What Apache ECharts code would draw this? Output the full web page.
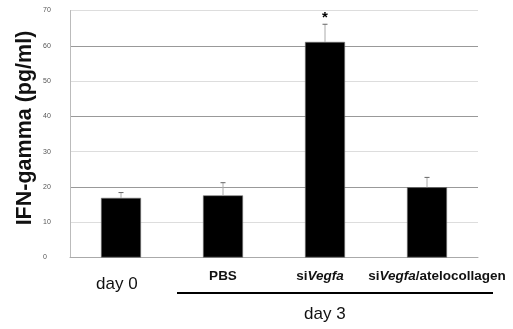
<!DOCTYPE html>
<html><head><meta charset="utf-8">
<script src="https://cdn.jsdelivr.net/npm/echarts@6/dist/echarts.min.js"></script>
<style>html,body{margin:0;padding:0;background:#fff}#c{width:513px;height:329px}</style>
</head><body><div id="c"></div>
<script>
var categories = ['day0', 'PBS', 'siVegfa', 'siVegfa/atelocollagen'];
var values = [16.9, 17.6, 61.1, 19.9];
var errors = [1.5, 3.6, 5.0, 2.8];
var significance = ['', '', '*', ''];
var yTicks = [0, 10, 20, 30, 40, 50, 60, 70];

var chart = echarts.init(document.getElementById('c'));
var labelMap = {
  'day0': '',
  'PBS': '{b|PBS}',
  'siVegfa': '{b|si}{bi|Vegfa}{sp|}',
  'siVegfa/atelocollagen': '{sp2|}{b|si}{bi|Vegfa}{b|/atelocollagen}'
};
var F = 'Liberation Sans, Arial';
chart.setOption({
  animation: false,
  grid: {left: 70, right: 35, top: 10.5, bottom: 71.5},
  xAxis: {
    type: 'category', data: categories,
    axisLine: {lineStyle: {color: '#aaa'}},
    axisTick: {show: false},
    axisLabel: {
      interval: 0, margin: 12,
      formatter: function (v) { return labelMap[v]; },
      rich: {
        b: {fontFamily: F, fontWeight: 'bold', fontSize: 13.5, color: '#111'},
        bi: {fontFamily: F, fontWeight: 'bold', fontStyle: 'italic', fontSize: 13.5, color: '#111'},
        sp: {width: 10},
        sp2: {width: 20}
      }
    }
  },
  yAxis: {
    type: 'value', min: 0, max: 70, interval: 10,
    name: 'IFN-gamma (pg/ml)', nameLocation: 'middle', nameGap: 45, nameMoveOverlap: false,
    nameTextStyle: {fontFamily: F, fontWeight: 'bold', fontSize: 21.5, color: '#111', padding: [0, 0, 0, 12], verticalAlign: 'middle'},
    axisLine: {show: true, lineStyle: {color: '#bbb'}},
    axisTick: {show: false},
    axisLabel: {fontSize: 7, color: '#555', margin: 27, align: 'left',
      formatter: function (v) { return yTicks.indexOf(v) >= 0 ? String(v) : ''; }},
    splitLine: {lineStyle: {color: ['#999', '#ddd'], width: 1}}
  },
  series: [{
    type: 'bar', data: values, barWidth: 40,
    itemStyle: {color: '#000', borderColor: '#777', borderWidth: 0.6}
  }, {
    type: 'custom',
    data: values.map(function (v, i) { return [i, v, v + errors[i], significance[i]]; }),
    renderItem: function (params, api) {
      var base = api.coord([api.value(0), api.value(1)]);
      var top = api.coord([api.value(0), api.value(2)]);
      var children = [
        {type: 'line', shape: {x1: base[0], y1: base[1], x2: top[0], y2: top[1]}, style: {stroke: '#aaa', lineWidth: 1}},
        {type: 'line', shape: {x1: top[0] - 2.5, y1: top[1], x2: top[0] + 2.5, y2: top[1]}, style: {stroke: '#666', lineWidth: 1}}
      ];
      var s = significance[params.dataIndex];
      if (s) {
        children.push({type: 'text', x: top[0], y: top[1] - 6, style: {text: s, fontSize: 15, fontWeight: 'bold', fill: '#000', align: 'center', verticalAlign: 'middle', fontFamily: F}});
      }
      return {type: 'group', children: children};
    },
    z: 5
  }],
  graphic: [
    {type: 'text', left: 96, top: 276, style: {text: 'day 0', fontSize: 17, fill: '#111', fontFamily: F}},
    {type: 'line', shape: {x1: 177, y1: 293, x2: 493, y2: 293}, style: {stroke: '#000', lineWidth: 2}},
    {type: 'text', left: 304, top: 306, style: {text: 'day 3', fontSize: 17, fill: '#111', fontFamily: F}}
  ]
});
</script></body></html>
